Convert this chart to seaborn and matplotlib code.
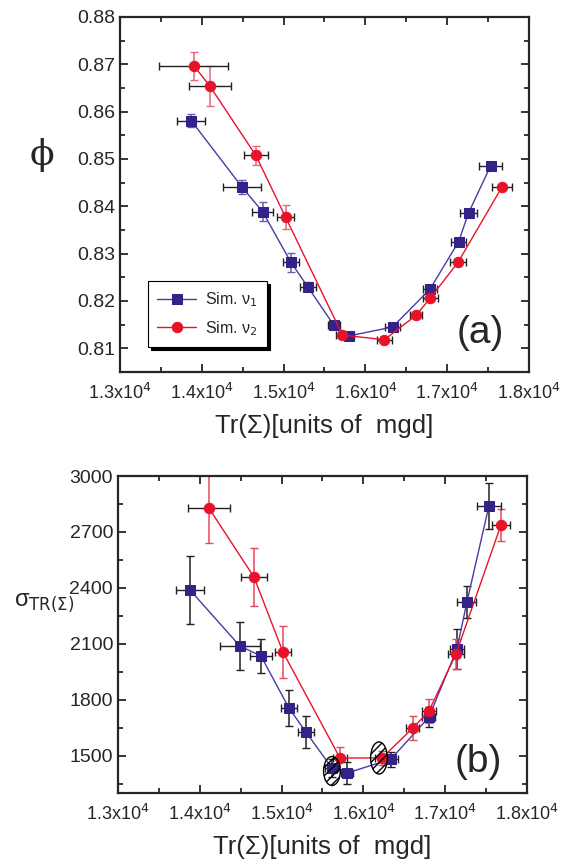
import numpy as np
import pandas as pd
import matplotlib
matplotlib.use('Agg')
import matplotlib.pyplot as plt
import seaborn as sns
from matplotlib.patches import Ellipse
from matplotlib.ticker import MultipleLocator, FuncFormatter

sns.set_theme(style='ticks')
plt.rcParams['font.family'] = ['Liberation Sans', 'DejaVu Sans']
plt.rcParams['mathtext.fontset'] = 'dejavusans'
plt.rcParams['hatch.linewidth'] = 1.0

# ---- panel (a): phi vs Tr(Sigma) ----
x_v1 = [13870, 14490, 14745, 15088, 15295, 15613, 15797, 16333, 16790, 17139, 17261, 17530]
xerr_v1 = [170, 235, 130, 100, 100, 75, 60, 90, 80, 90, 100, 145]
phi_v1 = [0.8581, 0.8441, 0.8388, 0.8282, 0.8230, 0.8149, 0.8126, 0.8145, 0.8225, 0.8325, 0.8386, 0.8485]
phi_err_v1 = [0.0013, 0.0015, 0.002, 0.002, 0.001, 0.0008, 0.0006, 0.0008, 0.0008, 0.0008, 0.0008, 0.0006]

x_v2a = [13902, 14098, 14659, 15024, 15720, 16232, 16622, 16793, 17134, 17671]
xerr_v2a = [420, 260, 145, 100, 80, 90, 75, 90, 100, 120]
phi_v2 = [0.8697, 0.8654, 0.8508, 0.8377, 0.8128, 0.8118, 0.8170, 0.8206, 0.8282, 0.8441]
phi_err_v2 = [0.003, 0.0043, 0.002, 0.0025, 0.0006, 0.0006, 0.0006, 0.0006, 0.0006, 0.0006]

# ---- panel (b): sigma vs Tr(Sigma) ----
x_v1b = [13880, 14491, 14748, 15090, 15298, 15616, 15800, 16337, 16802, 17144, 17266, 17535]
xerr_v1b = [175, 240, 130, 100, 100, 80, 70, 90, 80, 90, 115, 145]
sig_v1 = [2389, 2088, 2035, 1756, 1627, 1434, 1407, 1482, 1707, 2072, 2324, 2839]
sig_err_v1 = [180, 128, 93, 95, 85, 50, 60, 40, 55, 105, 85, 125]

x_v2b = [14112, 14663, 15017, 15714, 16227, 16606, 16802, 17132, 17682]
xerr_v2b = [260, 157, 100, 90, 90, 80, 90, 100, 110]
sig_v2 = [2828, 2458, 2056, 1488, 1488, 1649, 1740, 2045, 2737]
sig_err_v2 = [185, 157, 140, 60, 40, 64, 65, 80, 84]

# hatched regions (center x, center y, width, height)
ellipses = [(15616, 1418, 205, 155), (16191, 1488, 205, 172)]

BLUE = '#34218a'
BLUE_LINE = '#4a3aa5'
RED = '#e8132b'

fig = plt.figure(figsize=(5.68, 8.65), dpi=100)
ax1 = fig.add_axes([0.2113, 0.570, 0.720, 0.4104])
ax2 = fig.add_axes([0.2077, 0.0832, 0.720, 0.3665])


def draw(ax, x1, xe1, y1, ye1, x2, xe2, y2, ye2, ecol1, ecol2):
    d1 = pd.DataFrame({'x': x1, 'y': y1})
    d2 = pd.DataFrame({'x': x2, 'y': y2})
    ax.errorbar(x1, y1, yerr=ye1, fmt='none', ecolor=ecol1, elinewidth=1.1, capsize=3, zorder=2)
    ax.errorbar(x2, y2, yerr=ye2, fmt='none', ecolor=ecol2, elinewidth=1.1, capsize=3, zorder=2)
    ax.errorbar(x1, y1, xerr=xe1, fmt='none', ecolor='#222222', elinewidth=1.0, capsize=3, zorder=2)
    ax.errorbar(x2, y2, xerr=xe2, fmt='none', ecolor='#222222', elinewidth=1.0, capsize=3, zorder=2)
    sns.lineplot(data=d1, x='x', y='y', ax=ax, sort=False, color=BLUE_LINE, lw=1.0,
                 marker='s', markersize=6.5, markerfacecolor=BLUE, markeredgecolor=BLUE,
                 label='Sim. ν$_1$', zorder=3)
    sns.lineplot(data=d2, x='x', y='y', ax=ax, sort=False, color=RED, lw=1.0,
                 marker='o', markersize=7.5, markerfacecolor=RED, markeredgecolor=RED,
                 label='Sim. ν$_2$', zorder=3)


draw(ax1, x_v1, xerr_v1, phi_v1, phi_err_v1, x_v2a, xerr_v2a, phi_v2, phi_err_v2,
     '#6a5cb0', '#e8677a')
draw(ax2, x_v1b, xerr_v1b, sig_v1, sig_err_v1, x_v2b, xerr_v2b, sig_v2, sig_err_v2,
     '#222222', '#e8475a')

for cx, cy, w, h in ellipses:
    ax2.add_patch(Ellipse((cx, cy), w, h, facecolor='none', edgecolor='black',
                          hatch='////', lw=1.0, zorder=4))

fmt = FuncFormatter(lambda v, p: f'{v / 1e4:.1f}x10$^4$')
for ax in (ax1, ax2):
    ax.set_xlim(13000, 18000)
    ax.xaxis.set_major_locator(MultipleLocator(1000))
    ax.xaxis.set_minor_locator(MultipleLocator(500))
    ax.xaxis.set_major_formatter(fmt)
    ax.tick_params(which='both', direction='in', top=True, right=True, labelsize=13, width=1.3)
    ax.tick_params(axis='y', labelsize=14)
    ax.tick_params(which='major', length=6)
    ax.tick_params(which='minor', length=3.5)
    ax.tick_params(axis='x', pad=8)
    for s in ax.spines.values():
        s.set_linewidth(1.6)
    ax.set_xlabel('Tr(Σ)[units of  mgd]', fontsize=18.5, labelpad=8)
    ax.set_ylabel('')

ax1.set_ylim(0.805, 0.88)
ax1.yaxis.set_major_locator(MultipleLocator(0.01))
ax1.yaxis.set_minor_locator(MultipleLocator(0.005))
ax1.yaxis.set_major_formatter(FuncFormatter(lambda v, p: f'{v:.2f}'))
ax1.text(-0.19, 0.61, 'ϕ', transform=ax1.transAxes, fontsize=26, ha='center', va='center',
         family=['DejaVu Serif'])
ax1.text(0.94, 0.06, '(a)', transform=ax1.transAxes, fontsize=28, ha='right', va='bottom')
leg = ax1.legend(loc='lower left', bbox_to_anchor=(0.068, 0.07), borderaxespad=0,
                 fancybox=False, framealpha=1,
                 edgecolor='black', fontsize=11.5, handlelength=2.4, borderpad=0.6,
                 handletextpad=0.6, labelspacing=0.6,
                 shadow={'color': 'black', 'alpha': 1})
leg.get_frame().set_linewidth(0.8)

ax2.set_ylim(1300, 3000)
ax2.yaxis.set_major_locator(MultipleLocator(300))
ax2.yaxis.set_minor_locator(MultipleLocator(150))
ax2.text(-0.18, 0.60, r'σ$_{\mathrm{TR(Σ)}}$', transform=ax2.transAxes, fontsize=17,
         ha='center', va='center')
ax2.text(0.94, 0.04, '(b)', transform=ax2.transAxes, fontsize=28, ha='right', va='bottom')
if ax2.get_legend() is not None:
    ax2.get_legend().remove()

fig.savefig('out.png', dpi=100)
